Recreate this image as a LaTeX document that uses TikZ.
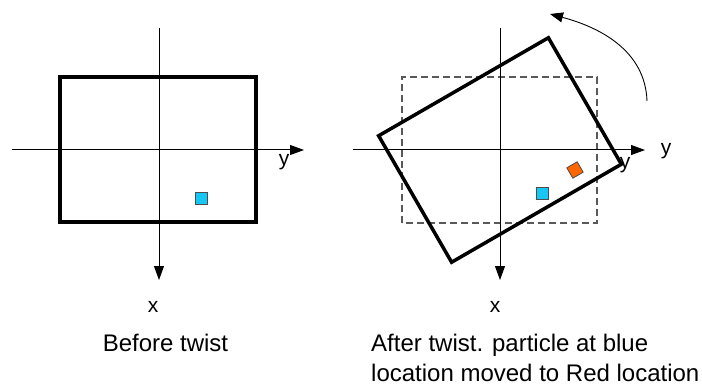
\documentclass[tikz,border=0pt]{standalone}
\usepackage{fontspec}
\setmainfont{Liberation Sans}
\usepackage{xcolor}
\usepackage{tikz}
\usetikzlibrary{arrows.meta,positioning,calc}
\definecolor{partblue}{RGB}{22,199,245}
\definecolor{partred}{RGB}{255,102,0}

\begin{document}
\begin{tikzpicture}[
    x=1pt, y=1pt,
    axis/.style={-{Triangle[length=14pt,width=10pt]}, line width=1pt},
    turn/.style={-{Triangle[length=13pt,width=10pt]}, line width=0.9pt},
    frame/.style={line width=3.5pt, line join=miter},
    ghost/.style={draw=black!65, line width=1.2pt, dash pattern=on 7pt off 4pt},
    particle/.style={draw=black!70, line width=0.8pt, minimum size=12pt, inner sep=0pt},
    lbl/.style={font=\fontsize{21}{21}\selectfont, inner sep=0pt},
    caption/.style={font=\fontsize{24}{29.5}\selectfont, inner sep=0pt, align=left}
]
\useasboundingbox (0,0) rectangle (702,389);

% before twist
\coordinate (l-west) at (12,239);
\coordinate (l-east) at (304,239);
\coordinate (l-north) at (159,361);
\coordinate (l-south) at (159,109);
\draw[frame] (60,167) rectangle (256,312);
\draw[axis] (l-west) -- (l-east);
\draw[axis] (l-north) -- (l-south);
\node[particle, fill=partblue] (l-blue) at (201,191) {};
\node[lbl] (l-y) at (284,227) {y};
\node[lbl] (l-x) at (153,82) {x};
\node[caption, anchor=base] (l-cap) at (165.5,38) {Before twist};

% after twist
\coordinate (r-west) at (353,239);
\coordinate (r-east) at (645,239);
\coordinate (r-north) at (500,361);
\coordinate (r-south) at (500,109);
\draw[ghost] (402,166) rectangle (597,312);
\node[lbl] (r-y2) at (625,224) {y};
\draw[frame, rotate around={30:(500,239)}] (402,166) rectangle (598,312);
\draw[axis] (r-west) -- (r-east);
\draw[axis] (r-north) -- (r-south);
\node[particle, fill=partblue] (r-blue) at (542,196) {};
\node[particle, fill=partred, rotate=30] (r-red) at (575,219) {};
\node[lbl] (r-y) at (666,238) {y};
\node[lbl] (r-x) at (495,82) {x};
\node[caption, anchor=north west] (r-cap) at (371,55) {After twist. particle at blue\\location moved to Red location};

\coordinate (turn-start) at (647,288);
\coordinate (turn-end) at (550,375);
\draw[turn] (turn-start) to[out=92, in=-15] (turn-end);
\end{tikzpicture}
\end{document}
